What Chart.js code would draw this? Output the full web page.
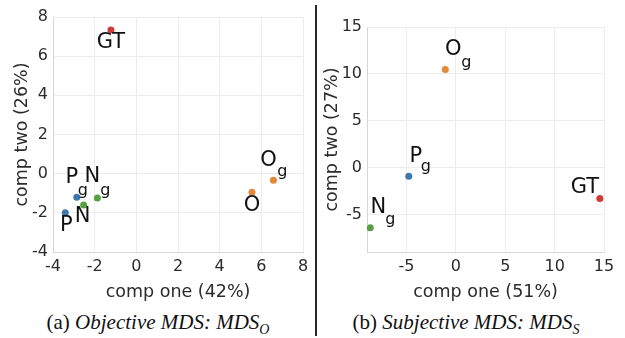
<!DOCTYPE html>
<html>
<head>
<meta charset="utf-8">
<script src="https://cdn.jsdelivr.net/npm/chart.js@4.4.0/dist/chart.umd.min.js"></script>
<style>
  body { margin: 0; background: #fff; }
  #wrap { position: relative; width: 625px; height: 338px; overflow: hidden; }
  canvas { position: absolute; top: 0; }
  #c1 { left: 0; }
  #c2 { left: 318px; }
  .sep { position: absolute; left: 315px; top: 5px; width: 2px; height: 331px; background: #2a2a2a; }
  .cap { position: absolute; top: 310px; font-family: "Liberation Serif", serif; font-size: 21px; color: #111; white-space: nowrap; transform: translateX(-50%); }
  .cap i sub { font-size: 14px; }
</style>
</head>
<body>
<div id="wrap">
  <canvas id="c1" width="316" height="305"></canvas>
  <canvas id="c2" width="307" height="305"></canvas>
  <div class="sep"></div>
  <div class="cap" style="left:158px">(a) <i>Objective MDS: MDS<sub>O</sub></i></div>
  <div class="cap" style="left:466px">(b) <i>Subjective MDS: MDS<sub>S</sub></i></div>
</div>
<script>
// Dados - MDS objetivo
const objNomes = ['GT', 'O', 'O', 'P', 'N', 'N', 'P'];
const objSub   = ['',   'g', '',  'g', 'g', '',  ''];
const objX = [-1.22, 6.58, 5.55, -2.86, -1.87, -2.53, -3.41];
const objY = [7.34, -0.34, -0.95, -1.21, -1.24, -1.60, -1.99];
const objTicksX = [-4, -2, 0, 2, 4, 6, 8];
const objTicksY = [-4, -2, 0, 2, 4, 6, 8];

// Dados - MDS subjetivo
const subNomes = ['O', 'P', 'N', 'GT'];
const subSub   = ['g', 'g', 'g', ''];
const subX = [-1.07, -4.77, -8.67, 14.58];
const subY = [10.47, -0.92, -6.42, -3.28];
const subTicksX = [-5, 0, 5, 10, 15];
const subTicksY = [-5, 0, 5, 10, 15];

const cores = { GT: '#cf3b36', O: '#e3893a', P: '#3f78b0', N: '#57a043' };

// deslocamento dos rotulos (px) em relacao ao ponto: [dx, dy, subDx, subDy]
const offObj = [[0, 13, 0, 0], [-5, -20, 9, -8], [0, 13, 0, 0], [-5, -20, 6, -7], [-5, -21, 8, -7], [-1, 12, 0, 0], [1, 13, 0, 0]];
const offSub = [[8, -20, 21, -7], [7, -20, 17, -9], [8, -20, 20, -8], [-15, -11, 0, 0]];

const corTexto = '#2b2b2b';
const corGrade = '#ececec';

const rotulos = {
  id: 'rotulos',
  afterDatasetsDraw(chart, args, opts) {
    const ctx = chart.ctx;
    const meta = chart.getDatasetMeta(0);
    ctx.save();
    ctx.fillStyle = '#111';
    ctx.textAlign = 'center';
    ctx.textBaseline = 'middle';
    meta.data.forEach((p, i) => {
      const o = opts.offsets[i];
      ctx.font = '21px "DejaVu Sans"';
      ctx.fillText(opts.nomes[i], p.x + o[0], p.y + o[1]);
      if (opts.subs[i]) {
        ctx.font = '16px "DejaVu Sans"';
        ctx.fillText(opts.subs[i], p.x + o[2], p.y + o[3]);
      }
    });
    ctx.restore();
  }
};

function montarGrafico(id, xs, ys, nomes, subs, offsets, lim, ticksX, ticksY, tituloX, tituloY, pad, larguraY, tituloPadY) {
  const pontos = xs.map((x, i) => ({ x, y: ys[i] }));
  return new Chart(document.getElementById(id), {
    type: 'scatter',
    data: {
      datasets: [{
        data: pontos,
        pointRadius: 3.5,
        pointBorderWidth: 0,
        pointBackgroundColor: nomes.map(n => cores[n]),
      }]
    },
    options: {
      responsive: false,
      animation: false,
      devicePixelRatio: 1,
      layout: { padding: pad },
      plugins: {
        legend: { display: false },
        tooltip: { enabled: false },
        rotulos: { nomes, subs, offsets }
      },
      scales: {
        x: {
          type: 'linear',
          min: lim[0], max: lim[1],
          afterBuildTicks: s => { s.ticks = ticksX.map(v => ({ value: v })); },
          afterFit: s => { s.height = 53; },
          grid: { color: corGrade, drawTicks: false },
          border: { color: '#d6d6d6' },
          ticks: { color: corTexto, padding: 5, font: { family: 'DejaVu Sans', size: 16 } },
          title: { display: true, text: tituloX, color: corTexto, padding: { top: 0, bottom: 2 }, font: { family: 'DejaVu Sans', size: 17.5 } }
        },
        y: {
          type: 'linear',
          min: lim[2], max: lim[3],
          afterBuildTicks: s => { s.ticks = ticksY.map(v => ({ value: v })); },
          afterFit: s => { s.width = larguraY; },
          grid: { color: corGrade, drawTicks: false },
          border: { color: '#d6d6d6' },
          ticks: { color: corTexto, padding: 5, font: { family: 'DejaVu Sans', size: 16 } },
          title: { display: true, text: tituloY, color: corTexto, padding: { top: tituloPadY, bottom: 0 }, font: { family: 'DejaVu Sans', size: 17.5 } }
        }
      }
    },
    plugins: [rotulos]
  });
}

montarGrafico('c1', objX, objY, objNomes, objSub, offObj, [-4, 8, -4, 8], objTicksX, objTicksY,
  'comp one (42%)', 'comp two (26%)', { top: 17, right: 13, left: 0, bottom: 0 }, 53, 12);
montarGrafico('c2', subX, subY, subNomes, subSub, offSub, [-9, 15, -9, 15], subTicksX, subTicksY,
  'comp one (51%)', 'comp two (27%)', { top: 27, right: 21, left: 0, bottom: 0 }, 49, 4);
</script>
</body>
</html>
